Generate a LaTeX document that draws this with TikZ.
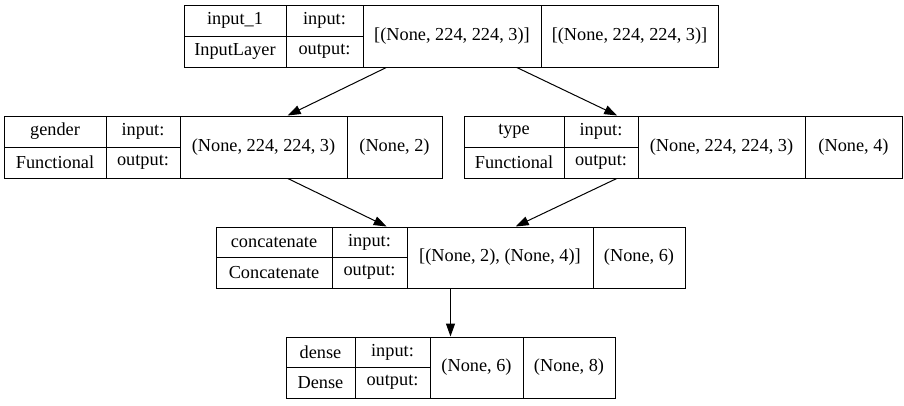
\documentclass[tikz,border=0pt]{standalone}
\usepackage{fontspec}
\setmainfont{Liberation Serif}
\usepackage{tikz}
\usetikzlibrary{arrows.meta, positioning}

\begin{document}
\begin{tikzpicture}[
      x=1pt, y=-1pt,
      layer/.style={draw, line width=1pt, inner sep=0pt},
      cell/.style={draw, line width=1pt, inner sep=0pt, minimum height=31,
                   font=\fontsize{18.3}{20}\selectfont},
      arr/.style={-{Triangle[length=13pt, width=9pt]}, line width=1pt}
  ]
    \useasboundingbox (0,0) rectangle (904,405);

    % input layer
    \node[layer, minimum width=534, minimum height=62] (in1) at (451,36) {};
    \node[cell, minimum width=102] (in1name)  at (235,20.5)  {input\_1};
    \node[cell, minimum width=102] (in1class) at (235,51.5)  {InputLayer};
    \node[cell, minimum width=77]  (in1in)    at (324.5,20.5) {input:};
    \node[cell, minimum width=77]  (in1out)   at (324.5,51.5) {output:};
    \node[cell, minimum width=178, minimum height=62] (in1ish) at (452,36)   {[(None, 224, 224, 3)]};
    \node[cell, minimum width=177, minimum height=62] (in1osh) at (629.5,36) {[(None, 224, 224, 3)]};

    % gender branch
    \node[layer, minimum width=438, minimum height=62] (gen) at (223,147) {};
    \node[cell, minimum width=102] (genname)  at (55,131.5)  {gender};
    \node[cell, minimum width=102] (genclass) at (55,162.5)  {Functional};
    \node[cell, minimum width=74]  (genin)    at (143,131.5) {input:};
    \node[cell, minimum width=74]  (genout)   at (143,162.5) {output:};
    \node[cell, minimum width=167, minimum height=62] (genish) at (263.5,147) {(None, 224, 224, 3)};
    \node[cell, minimum width=95,  minimum height=62] (genosh) at (394.5,147) {(None, 2)};

    % type branch
    \node[layer, minimum width=438, minimum height=62] (typ) at (683,147) {};
    \node[cell, minimum width=100] (typname)  at (514,131.5) {type};
    \node[cell, minimum width=100] (typclass) at (514,162.5) {Functional};
    \node[cell, minimum width=74]  (typin)    at (601,131.5) {input:};
    \node[cell, minimum width=74]  (typout)   at (601,162.5) {output:};
    \node[cell, minimum width=167, minimum height=62] (typish) at (721.5,147) {(None, 224, 224, 3)};
    \node[cell, minimum width=97,  minimum height=62] (typosh) at (853.5,147) {(None, 4)};

    % concatenate
    \node[layer, minimum width=469, minimum height=61] (cat) at (450.5,257.5) {};
    \node[cell, minimum width=116, minimum height=30.5] (catname)  at (274,242.25) {concatenate};
    \node[cell, minimum width=116, minimum height=30.5] (catclass) at (274,272.75) {Concatenate};
    \node[cell, minimum width=75,  minimum height=30.5] (catin)    at (369.5,242.25) {input:};
    \node[cell, minimum width=75,  minimum height=30.5] (catout)   at (369.5,272.75) {output:};
    \node[cell, minimum width=186, minimum height=61] (catish) at (500,257.5) {[(None, 2), (None, 4)]};
    \node[cell, minimum width=92,  minimum height=61] (catosh) at (639,257.5) {(None, 6)};

    % dense
    \node[layer, minimum width=329, minimum height=61] (den) at (450.5,367.5) {};
    \node[cell, minimum width=69, minimum height=30.5] (denname)  at (320.5,352.25) {dense};
    \node[cell, minimum width=69, minimum height=30.5] (denclass) at (320.5,382.75) {Dense};
    \node[cell, minimum width=75, minimum height=30.5] (denin)    at (392.5,352.25) {input:};
    \node[cell, minimum width=75, minimum height=30.5] (denout)   at (392.5,382.75) {output:};
    \node[cell, minimum width=93, minimum height=61] (denish) at (476.5,367.5) {(None, 6)};
    \node[cell, minimum width=92, minimum height=61] (denosh) at (569,367.5)   {(None, 8)};

    \draw[arr] (in1) -- (gen);
    \draw[arr] (in1) -- (typ);
    \draw[arr] (gen) -- (cat);
    \draw[arr] (typ) -- (cat);
    \draw[arr] (cat) -- (den);
  \end{tikzpicture}
\end{document}
